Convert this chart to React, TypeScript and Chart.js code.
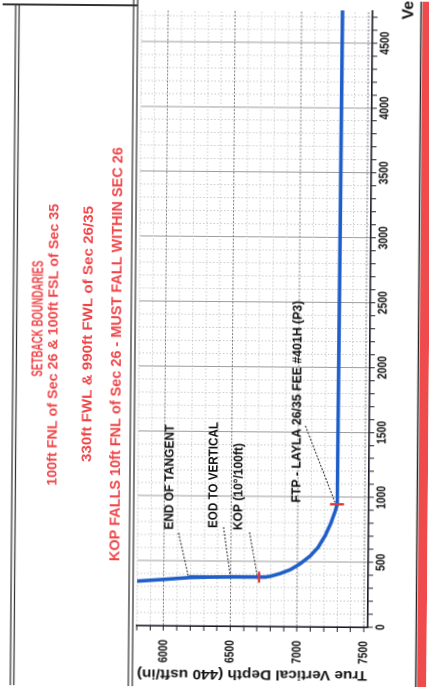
import React, { useEffect, useRef } from 'react';
import { Chart, registerables } from 'chart.js';

Chart.register(...registerables);

// ---- data (TVD in usft, Vertical Section in usft) ----
const wellTVD = [5800, 6000, 6197, 6350, 6511, 6713, 6760, 6800, 6870, 6945, 7019, 7093, 7153, 7204, 7248, 7277, 7290, 7294, 7298, 7305];
const wellVS = [341, 356, 372, 377, 379, 379, 381, 387, 408, 438, 484, 544, 612, 700, 800, 885, 930, 960, 2500, 4800];

const markerTVD = [6713, 7292];
const markerVS = [379, 945];

const annoText = ['END OF TANGENT', 'EOD TO VERTICAL', 'KOP (10°/100ft)', 'FTP - LAYLA 26/35 FEE #401H (P3)'];
const annoTVD = [6197, 6511, 6713, 7292];
const annoVS = [372, 379, 379, 945];

const tvdTickLabels = [6000, 6500, 7000, 7500];
const vsTickLabels = [0, 500, 1000, 1500, 2000, 2500, 3000, 3500, 4000, 4500];

const setbackLines = [
  'SETBACK BOUNDARIES',
  '100ft FNL of Sec 26 & 100ft FSL of Sec 35',
  '330ft FWL & 990ft FWL of Sec 26/35',
  'KOP FALLS 10ft FNL of Sec 26 - MUST FALL WITHIN SEC 26',
];
const tvdTitle = 'True Vertical Depth (440 usft/in)';
const vsTitle = 'Vertical Section';

// ---- layout (canvas drawn unrotated, then turned a quarter turn) ----
const W = 687;
const H = 429;
const FONT = '"Liberation Sans", Arial, sans-serif';
const RED = '#ef4549';

function fitText(
  ctx: CanvasRenderingContext2D,
  text: string,
  x: number,
  y: number,
  len: number,
  size: number,
  color: string,
  align: CanvasTextAlign,
  rot = 0
) {
  ctx.save();
  ctx.font = `bold ${size}px ${FONT}`;
  const w = ctx.measureText(text).width;
  const k = len > 0 ? len / w : 1;
  ctx.translate(x, y);
  ctx.rotate(rot);
  ctx.scale(k, 1);
  ctx.textAlign = align;
  ctx.textBaseline = 'middle';
  ctx.fillStyle = color;
  ctx.fillText(text, 0, 0);
  ctx.restore();
}

const setbackLayout = [
  { cx: 367, y: 38, len: 116, size: 15.5 },
  { cx: 341, y: 53.5, len: 282, size: 14 },
  { cx: 352, y: 88, len: 256, size: 14 },
  { cx: 332, y: 117, len: 414, size: 15 },
];

const annoLayout = [
  { x: 157, y: 171, len: 105, lx: 154, ly: 180 },
  { x: 159, y: 215, len: 106, lx: 160, ly: 225 },
  { x: 157, y: 240, len: 87, lx: 155, ly: 251 },
  { x: 185, y: 298, len: 202, lx: 262, ly: 306 },
];

const overlayPlugin = {
  id: 'overlay',
  afterDraw(chart: any) {
    const ctx: CanvasRenderingContext2D = chart.ctx;
    const xs = chart.scales.x;
    const ys = chart.scales.y;

    // title-block panel lines
    ctx.save();
    ctx.strokeStyle = '#333';
    ctx.lineWidth = 1.2;
    [13, 16.5, 131, 135].forEach((yy) => {
      ctx.beginPath();
      ctx.moveTo(0, yy);
      ctx.lineTo(yy > 100 ? W : 681, yy);
      ctx.stroke();
    });
    ctx.lineWidth = 2;
    ctx.beginPath();
    ctx.moveTo(681, 0);
    ctx.lineTo(681, 135);
    ctx.stroke();
    ctx.restore();

    // setback text
    setbackLines.forEach((t, i) => {
      const l = setbackLayout[i];
      fitText(ctx, t, l.cx, l.y, l.len, l.size, RED, 'center');
    });

    // annotations with leaders
    annoText.forEach((t, i) => {
      const l = annoLayout[i];
      fitText(ctx, t, l.x, l.y, l.len, 12.5, '#111', 'left');
      const px = xs.getPixelForValue(annoVS[i]);
      const py = ys.getPixelForValue(annoTVD[i]);
      ctx.save();
      ctx.strokeStyle = '#222';
      ctx.lineWidth = 1;
      ctx.setLineDash([2, 1.5]);
      ctx.beginPath();
      ctx.moveTo(l.lx, l.ly);
      ctx.lineTo(px + 2, py - 2);
      ctx.stroke();
      ctx.restore();
    });

    // tick labels
    ctx.save();
    ctx.font = `bold 13px ${FONT}`;
    const k4 = 23 / ctx.measureText('0000').width;
    ctx.restore();
    tvdTickLabels.forEach((v) => {
      const y = ys.getPixelForValue(v);
      ctx.save();
      ctx.font = `bold 13px ${FONT}`;
      ctx.translate(47, y);
      ctx.scale(k4, 1);
      ctx.textAlign = 'right';
      ctx.textBaseline = 'middle';
      ctx.fillStyle = '#111';
      ctx.fillText(String(v), 0, 0);
      ctx.restore();
    });
    vsTickLabels.forEach((v) => {
      const x = xs.getPixelForValue(v);
      ctx.save();
      ctx.font = `bold 13px ${FONT}`;
      ctx.translate(x, 383);
      ctx.scale(k4, 1);
      ctx.textAlign = 'center';
      ctx.textBaseline = 'middle';
      ctx.fillStyle = '#111';
      ctx.fillText(String(v), 0, 0);
      ctx.restore();
    });

    // axis titles
    const cy = (chart.chartArea.top + chart.chartArea.bottom) / 2;
    fitText(ctx, tvdTitle, 13, cy, 230, 14, '#111', 'center', -Math.PI / 2);
    fitText(ctx, vsTitle, 669, 406, 0, 16, '#111', 'left');

    // page border
    ctx.save();
    ctx.strokeStyle = '#222';
    ctx.lineWidth = 1.5;
    ctx.beginPath();
    ctx.moveTo(0, 418.5);
    ctx.lineTo(W, 418.5);
    ctx.stroke();
    ctx.fillStyle = '#ef4a4c';
    ctx.fillRect(0, 420, W, 9);
    ctx.restore();
  },
};

export default function App() {
  const ref = useRef<HTMLCanvasElement>(null);

  useEffect(() => {
    const canvas = ref.current;
    if (!canvas) return;
    const major = (c: any) => c.tick && c.tick.value % 500 === 0;
    const chart = new Chart(canvas, {
      type: 'scatter',
      data: {
        datasets: [
          {
            data: markerVS.map((v, i) => ({ x: v, y: markerTVD[i] })),
            showLine: false,
            pointStyle: 'line',
            pointRadius: [5.5, 7],
            pointRotation: [0, 90],
            pointBorderColor: '#e5353d',
            pointBackgroundColor: '#e5353d',
            pointBorderWidth: 2.4,
          } as any,
          {
            data: wellVS.map((v, i) => ({ x: v, y: wellTVD[i] })),
            showLine: true,
            borderColor: '#1f5ec8',
            borderWidth: 3.6,
            borderJoinStyle: 'round',
            pointRadius: 0,
            tension: 0,
          } as any,
        ],
      },
      options: {
        animation: false,
        responsive: false,
        devicePixelRatio: 2,
        layout: { padding: { top: 139, left: 0, right: 0, bottom: 0 } },
        plugins: { legend: { display: false }, tooltip: { enabled: false } },
        scales: {
          x: {
            type: 'linear',
            position: 'bottom',
            min: 0,
            max: 4750,
            afterFit: (s: any) => {
              s.height = 59;
            },
            ticks: { stepSize: 100, display: false, includeBounds: false },
            grid: {
              color: (c: any) => (major(c) ? '#9c9c9c' : '#c9c9c9'),
              lineWidth: 1,
              tickLength: 5,
              tickColor: '#222',
              tickWidth: 1,
            },
            border: {
              display: true,
              color: '#1b1b2b',
              width: 1.6,
              dash: (c: any) => (c.tick ? (major(c) ? [] : [1.5, 2]) : []),
            },
          } as any,
          y: {
            type: 'linear',
            reverse: true,
            min: 5800,
            max: 7530,
            afterFit: (s: any) => {
              s.width = 61;
            },
            ticks: { stepSize: 100, display: false, includeBounds: false },
            grid: {
              color: (c: any) => (major(c) ? '#7a7a7a' : '#c9c9c9'),
              lineWidth: 1,
              tickLength: 5,
              tickColor: '#222',
              tickWidth: 1,
            },
            border: {
              display: true,
              color: '#1b1b2b',
              width: 1.6,
              dash: (c: any) => (c.tick ? (major(c) ? [2, 1.5] : [1.5, 2]) : []),
            },
          } as any,
        },
      },
      plugins: [overlayPlugin],
    });
    return () => chart.destroy();
  }, []);

  return (
    <div
      style={{
        position: 'fixed',
        left: 0,
        top: 0,
        width: 429,
        height: 687,
        overflow: 'hidden',
        background: '#fff',
        transform: 'rotate(0.45deg)',
      }}
    >
      <div
        style={{
          position: 'absolute',
          left: 0,
          top: 0,
          width: W,
          height: H,
          transformOrigin: '0 0',
          transform: `translate(0px, ${W}px) rotate(-90deg)`,
        }}
      >
        <canvas ref={ref} width={W} height={H} style={{ display: 'block', width: W, height: H }} />
      </div>
    </div>
  );
}
